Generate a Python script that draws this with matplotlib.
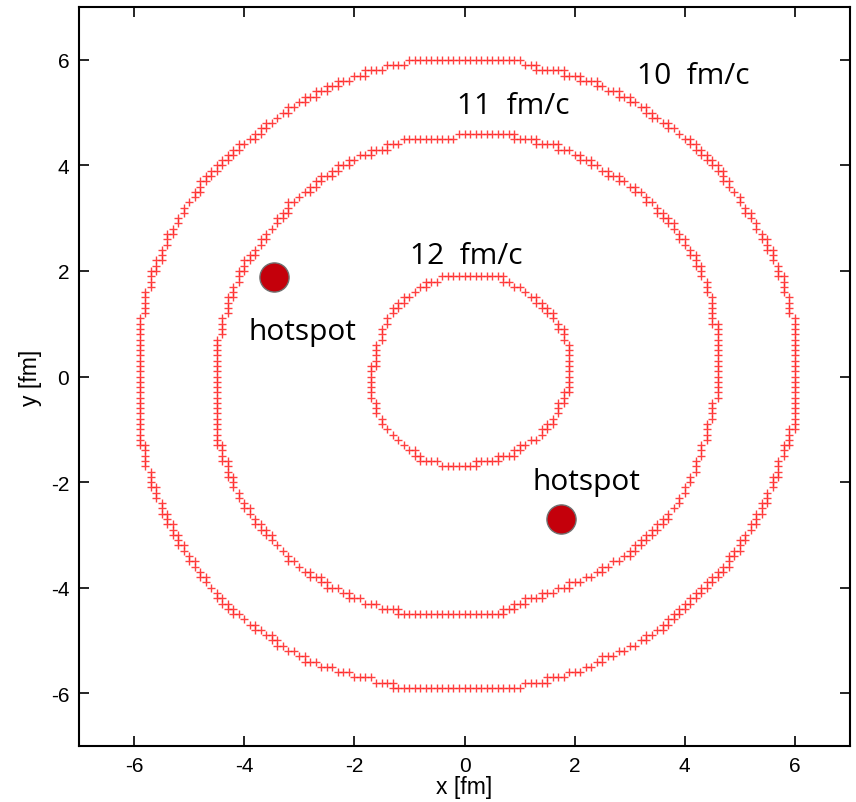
import numpy as np
import matplotlib
matplotlib.use("Agg")
import matplotlib.pyplot as plt

plt.rcParams["axes.unicode_minus"] = False

# outline vertices of the three isotherm rings (fm)
ring10_x = [6.0, 6.0, 5.91, 5.78, 5.67, 5.42, 5.13, 4.76, 4.28, 3.73, 3.13, 2.59, 2.10, 1.69, 1.25, 0.89,
            -1.13, -1.43, -1.86, -2.22, -2.77, -3.13, -3.55, -3.96, -4.33, -4.69, -5.0, -5.18, -5.40, -5.58,
            -5.69, -5.78, -5.9, -5.9, -5.87, -5.78, -5.6, -5.36, -5.0, -4.69, -4.22, -3.6, -3.0, -2.41,
            -1.86, -1.55, -1.19, -0.82, 0.92, 1.13, 1.50, 1.92, 2.59, 3.19, 3.79, 4.52, 4.95, 5.37, 5.73,
            5.91, 6.0]
ring10_y = [0.9, -0.84, -1.15, -1.47, -1.85, -2.48, -2.99, -3.56, -4.07, -4.64, -5.07, -5.32, -5.58, -5.71,
            -5.81, -5.9, -5.9, -5.81, -5.7, -5.6, -5.40, -5.21, -4.94, -4.64, -4.32, -3.88, -3.43, -3.12,
            -2.74, -2.29, -1.98, -1.6, -1.09, 1.03, 1.03, 1.6, 2.10, 2.66, 3.30, 3.74, 4.25, 4.75, 5.20,
            5.51, 5.73, 5.83, 5.92, 6.0, 6.0, 5.92, 5.79, 5.73, 5.45, 5.13, 4.69, 4.07, 3.42, 2.74, 1.98,
            1.34, 0.9]

ring11_x = [4.6, 4.58, 4.51, 4.42, 4.33, 4.15, 3.86, 3.43, 2.95, 2.46, 1.97, 1.5, 0.95, 0.59, -1.06,
            -1.32, -1.68, -2.15, -2.51, -2.88, -3.19, -3.55, -3.85, -4.04, -4.22, -4.4, -4.51, -4.51,
            -4.45, -4.33, -4.22, -4.04, -3.78, -3.49, -3.13, -2.77, -2.28, -1.86, -1.55, -1.19, -0.95,
            -0.2, -0.15, 0.83, 1.01, 1.37, 1.74, 2.10, 2.46, 2.83, 3.19, 3.5, 3.79, 4.04, 4.22, 4.40,
            4.49, 4.58, 4.6]
ring11_y = [0.0, -0.3, -0.58, -0.96, -1.34, -1.85, -2.42, -2.93, -3.37, -3.69, -3.93, -4.12, -4.31, -4.5,
            -4.5, -4.41, -4.31, -4.12, -3.93, -3.69, -3.42, -3.04, -2.66, -2.36, -1.98, -1.47, -1.09, 0.0,
            0.77, 1.22, 1.60, 2.04, 2.42, 2.80, 3.30, 3.61, 3.97, 4.18, 4.31, 4.44, 4.52, 4.52, 4.6, 4.6,
            4.50, 4.44, 4.35, 4.18, 3.93, 3.74, 3.50, 3.18, 2.86, 2.48, 2.17, 1.72, 1.34, 0.84, 0.0]

ring12_x = [1.88, 1.88, 1.79, 1.61, 1.37, 1.13, 0.77, 0.34, 0.16, -0.44, -0.70, -0.95, -1.19, -1.43,
            -1.61, -1.68, -1.68, -1.61, -1.5, -1.31, -1.06, -0.77, -0.34, 0.59, 0.77, 1.06, 1.37, 1.61,
            1.77, 1.88]
ring12_y = [0.58, -0.24, -0.43, -0.81, -1.13, -1.28, -1.51, -1.60, -1.66, -1.66, -1.6, -1.44, -1.22,
            -0.96, -0.65, -0.33, 0.08, 0.46, 0.84, 1.22, 1.47, 1.72, 1.91, 1.91, 1.81, 1.62, 1.41, 1.13,
            0.86, 0.58]

hot_x = [-3.46, 1.75]
hot_y = [1.89, -2.7]

labels = ["10  fm/c", "11  fm/c", "12  fm/c", "hotspot", "hotspot"]
label_x = [4.15, 0.89, 0.03, -2.95, 2.22]
label_y = [5.70, 5.13, 2.30, 0.86, -1.98]

ticks = [-6, -4, -2, 0, 2, 4, 6]


def grid_points(vx, vy, step=0.1):
    # walk along the outline and keep the grid cells it passes through
    pts = []
    for i in range(len(vx) - 1):
        x0, y0, x1, y1 = vx[i], vy[i], vx[i + 1], vy[i + 1]
        n = max(int(np.hypot(x1 - x0, y1 - y0) / (step * 0.5)), 1)
        for t in np.linspace(0, 1, n, endpoint=False):
            pts.append((round((x0 + t * (x1 - x0)) / step), round((y0 + t * (y1 - y0)) / step)))
    pts = sorted(set(pts))
    return np.array([p[0] for p in pts]) * step, np.array([p[1] for p in pts]) * step


fig = plt.figure(figsize=(8.56, 8.03), dpi=100)
ax = fig.add_axes([0.0923, 0.0697, 0.9007, 0.9203])

for rx, ry in [(ring10_x, ring10_y), (ring11_x, ring11_y), (ring12_x, ring12_y)]:
    px, py = grid_points(rx, ry)
    ax.plot(px, py, "+", color="#ff2020", ms=6, mew=1.0, alpha=0.85, ls="none")

ax.plot(hot_x, hot_y, "o", ms=21, color="#c4000b", mec="#707070", mew=1.0, zorder=5)

for t, x, y in zip(labels, label_x, label_y):
    ax.text(x, y, t, fontsize=21.5, family="Open Sans", ha="center", va="center")

ax.set_xlim(-7, 7)
ax.set_ylim(-7, 7)
ax.set_xticks(ticks)
ax.set_yticks(ticks)
ax.tick_params(direction="in", length=7, width=1.2, top=True, right=True, labelsize=15,
               labeltop=False, labelright=False, pad=7)
for lab in ax.get_xticklabels() + ax.get_yticklabels():
    lab.set_family("Liberation Sans")
for s in ax.spines.values():
    s.set_linewidth(1.5)
ax.set_xlabel("x [fm]", fontsize=16.5, family="Liberation Sans", labelpad=0)
ax.set_ylabel("y [fm]", fontsize=16.5, family="Liberation Sans", labelpad=6)

fig.savefig("out.png", dpi=100)
